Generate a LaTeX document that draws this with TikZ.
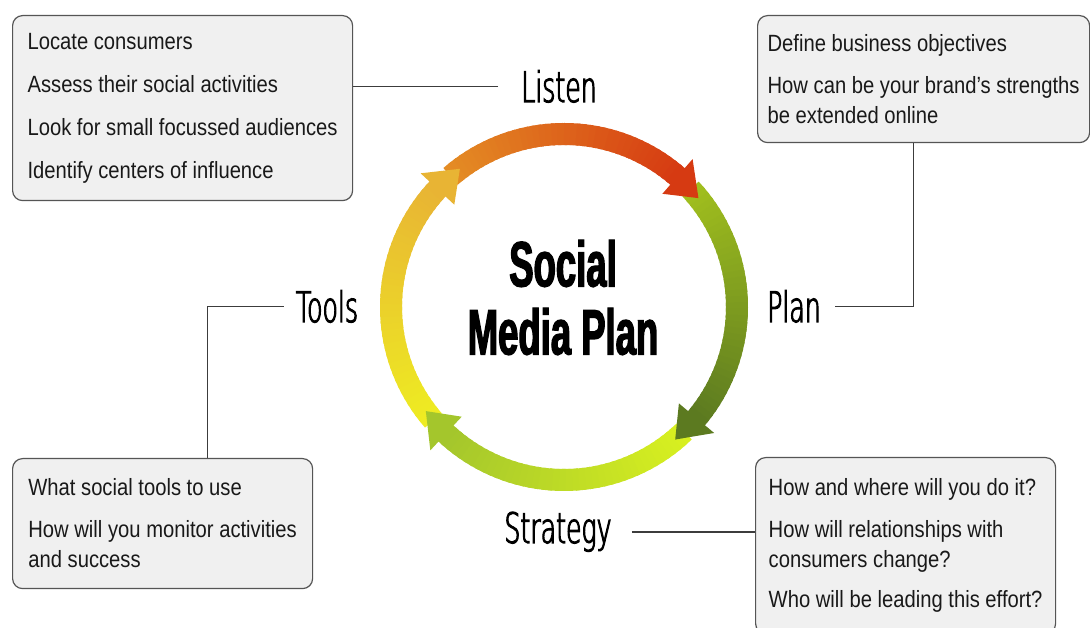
\documentclass[tikz,border=0pt]{standalone}
\usepackage{fontspec}
\setmainfont{Liberation Sans}[FakeStretch=0.86]
\newfontfamily\handfont{DejaVu Sans ExtraLight}[FakeStretch=0.6,FakeBold=2.5]
\newfontfamily\titlefont{Liberation Sans Bold}[FakeStretch=0.57,FakeBold=2]
\usepackage{xcolor}
\definecolor{boxfill}{RGB}{240,240,240}
\definecolor{boxline}{RGB}{85,85,85}
\definecolor{lineink}{RGB}{60,60,60}
\definecolor{orangeA}{RGB}{228,140,36}
\definecolor{redA}{RGB}{214,58,18}
\definecolor{greenA}{RGB}{160,190,30}
\definecolor{greenB}{RGB}{92,122,32}
\definecolor{limeA}{RGB}{216,240,32}
\definecolor{limeB}{RGB}{164,198,44}
\definecolor{yellowA}{RGB}{238,236,34}
\definecolor{yellowB}{RGB}{232,180,52}
\usepackage{tikz}

\begin{document}
\begin{tikzpicture}[x=1pt, y=1pt,
  infobox/.style={draw=boxline, line width=1.2pt, fill=boxfill, rounded corners=10pt,
    align=left, anchor=north west, inner sep=0pt, text=black!90,
    font=\fontsize{23.5}{30}\selectfont},
  phase/.style={anchor=base, inner sep=0pt, font=\handfont\fontsize{42}{42}\selectfont},
  connector/.style={draw=lineink, line width=1.5pt}]

  \useasboundingbox[fill=white] (0,0) rectangle (1090,628);

  % Info boxes
  \node[infobox, minimum width=340pt, minimum height=185pt] (listenbox) at (12,613)
    {Locate consumers\\[13pt]Assess their social activities\\[13pt]Look for small focussed audiences\\[13pt]Identify centers of influence};
  \node[infobox, minimum width=332pt, minimum height=127pt] (planbox) at (757,613)
    {Define business objectives\\[12pt]How can be your brand's strengths\\be extended online};
  \node[infobox, minimum width=300pt, minimum height=130pt] (toolsbox) at (12,170)
    {What social tools to use\\[12pt]How will you monitor activities\\and success};
  \node[infobox, minimum width=300pt, minimum height=176pt] (strategybox) at (755,171)
    {How and where will you do it?\\[12pt]How will relationships with\\consumers change?\\[10pt]Who will be leading this effort?};

  % Cycle ring: shaded arcs first, heads on top
  \begin{scope}[shift={(564,321)}]
    \foreach \sa/\ea/\cfrom/\cto in {131/49/orangeA/redA, 43/-40/greenA/greenB,
        -46/-133/limeA/limeB, 221/137/yellowA/yellowB} {
      \foreach \i in {0,...,39} {
        \pgfmathsetmacro{\angA}{\sa+(\ea-\sa)*\i/40}
        \pgfmathsetmacro{\angB}{\sa+(\ea-\sa)*(\i+1.5)/40}
        \pgfmathtruncatemacro{\mixpct}{100*\i/39}
        \draw[line width=22pt, \cto!\mixpct!\cfrom] (\angA:173pt) arc[start angle=\angA, end angle=\angB, radius=173pt];
      }
    }
    \foreach \ea/\ta/\cto in {49/39/redA, -40/-50/greenB, -133/-143/limeB, 137/127/yellowB}
      \fill[\cto] (\ea:150pt) -- (\ea:196pt) -- (\ta:173pt) -- cycle;
  \end{scope}

  % Title
  \node[font=\titlefont\fontsize{64}{68}\selectfont, align=center, inner sep=0pt] (title) at (563,330.5) {Social\\Media Plan};

  % Phase labels
  \node[phase] (listen) at (559,526) {Listen};
  \node[phase] (plan) at (794,306) {Plan};
  \node[phase] (tools) at (327,306) {Tools};
  \node[phase] (strategy) at (558,85) {Strategy};

  % Connectors
  \draw[connector, shorten <=23pt] (listen.west) -- (listen.west -| listenbox.east);
  \draw[connector, shorten <=14pt] (plan.east) -| ([xshift=-10pt]planbox.south);
  \draw[connector, shorten <=12pt] (tools.west) -| ([xshift=45pt]toolsbox.north);
  \draw[connector, shorten <=20pt] (strategy.east) -- (strategy.east -| strategybox.west);
\end{tikzpicture}
\end{document}
